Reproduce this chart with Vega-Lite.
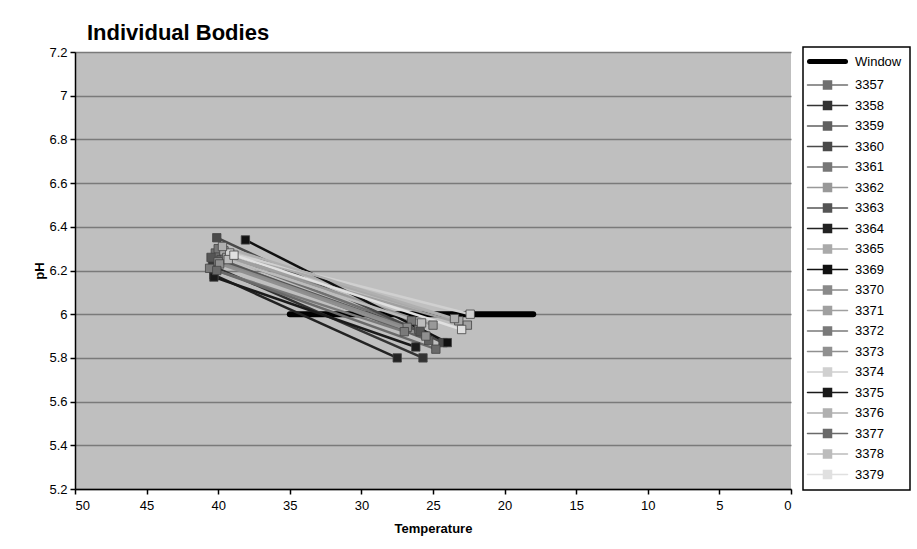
{
  "$schema": "https://vega.github.io/schema/vega-lite/v6.json",
  "width": 716,
  "height": 437,
  "autosize": {"type": "none"},
  "padding": {"left": 75, "top": 52, "right": 126, "bottom": 60},
  "background": "white",
  "title": {
    "text": "Individual Bodies",
    "anchor": "start",
    "frame": "group",
    "dx": 12,
    "dy": 7,
    "offset": 8,
    "fontSize": 22,
    "fontWeight": "bold",
    "font": "Liberation Sans",
    "color": "black"
  },
  "config": {
    "view": {"fill": "#bfbfbf", "stroke": null},
    "font": "Liberation Sans",
    "axis": {
      "labelFont": "Liberation Sans",
      "labelFontSize": 13,
      "labelColor": "black",
      "titleFont": "Liberation Sans",
      "titleFontSize": 13,
      "titleFontWeight": "bold",
      "titleColor": "black",
      "domainColor": "black",
      "domainWidth": 1.5,
      "tickColor": "black",
      "tickWidth": 1.5,
      "tickSize": 5
    }
  },
  "datasets": {
    "win": [
      {"series": "Window", "temp": 35, "ph": 6.0},
      {"series": "Window", "temp": 18, "ph": 6.0}
    ],
    "bodies": [
      {"series": "3357", "temp": 40.2, "ph": 6.28}, {"series": "3357", "temp": 26.0, "ph": 5.93},
      {"series": "3358", "temp": 40.4, "ph": 6.22}, {"series": "3358", "temp": 25.7, "ph": 5.80},
      {"series": "3359", "temp": 39.8, "ph": 6.25}, {"series": "3359", "temp": 25.3, "ph": 5.88},
      {"series": "3360", "temp": 40.1, "ph": 6.35}, {"series": "3360", "temp": 24.3, "ph": 5.87},
      {"series": "3361", "temp": 40.0, "ph": 6.30}, {"series": "3361", "temp": 26.5, "ph": 5.97},
      {"series": "3362", "temp": 39.5, "ph": 6.27}, {"series": "3362", "temp": 25.0, "ph": 5.95},
      {"series": "3363", "temp": 40.5, "ph": 6.26}, {"series": "3363", "temp": 25.9, "ph": 5.92},
      {"series": "3364", "temp": 40.3, "ph": 6.18}, {"series": "3364", "temp": 27.5, "ph": 5.80},
      {"series": "3365", "temp": 39.6, "ph": 6.29}, {"series": "3365", "temp": 23.2, "ph": 5.97},
      {"series": "3369", "temp": 38.1, "ph": 6.34}, {"series": "3369", "temp": 24.0, "ph": 5.87},
      {"series": "3370", "temp": 40.0, "ph": 6.24}, {"series": "3370", "temp": 26.8, "ph": 5.94},
      {"series": "3371", "temp": 39.4, "ph": 6.26}, {"series": "3371", "temp": 22.6, "ph": 5.95},
      {"series": "3372", "temp": 40.6, "ph": 6.21}, {"series": "3372", "temp": 27.0, "ph": 5.92},
      {"series": "3373", "temp": 39.9, "ph": 6.23}, {"series": "3373", "temp": 25.5, "ph": 5.90},
      {"series": "3374", "temp": 39.2, "ph": 6.28}, {"series": "3374", "temp": 22.4, "ph": 6.00},
      {"series": "3375", "temp": 40.3, "ph": 6.17}, {"series": "3375", "temp": 26.2, "ph": 5.85},
      {"series": "3376", "temp": 39.7, "ph": 6.31}, {"series": "3376", "temp": 23.5, "ph": 5.98},
      {"series": "3377", "temp": 40.1, "ph": 6.20}, {"series": "3377", "temp": 24.8, "ph": 5.84},
      {"series": "3378", "temp": 39.3, "ph": 6.25}, {"series": "3378", "temp": 25.8, "ph": 5.96},
      {"series": "3379", "temp": 38.9, "ph": 6.27}, {"series": "3379", "temp": 23.0, "ph": 5.93}
    ]
  },
  "encoding": {
    "x": {
      "field": "temp",
      "type": "quantitative",
      "title": "Temperature",
      "scale": {"domain": [0, 50], "reverse": true, "nice": false, "zero": false},
      "axis": {"values": [0, 5, 10, 15, 20, 25, 30, 35, 40, 45, 50], "grid": false, "titlePadding": 10, "labelPadding": 5}
    },
    "y": {
      "field": "ph",
      "type": "quantitative",
      "title": "pH",
      "scale": {"domain": [5.2, 7.2], "nice": false, "zero": false},
      "axis": {
        "values": [5.2, 5.4, 5.6, 5.8, 6.0, 6.2, 6.4, 6.6, 6.8, 7.0, 7.2],
        "format": "~g",
        "grid": true,
        "gridColor": "#7a7a7a",
        "gridWidth": 1.5,
        "titlePadding": 2,
        "labelPadding": 3
      }
    },
    "color": {
      "field": "series",
      "type": "nominal",
      "scale": {
        "domain": ["Window", "3357", "3358", "3359", "3360", "3361", "3362", "3363", "3364", "3365", "3369", "3370", "3371", "3372", "3373", "3374", "3375", "3376", "3377", "3378", "3379"],
        "range": ["#000000", "#707070", "#333333", "#606060", "#4a4a4a", "#777777", "#999999", "#555555", "#222222", "#aaaaaa", "#111111", "#8a8a8a", "#a0a0a0", "#7a7a7a", "#909090", "#d0d0d0", "#1a1a1a", "#b0b0b0", "#6a6a6a", "#bcbcbc", "#e0e0e0"]
      },
      "legend": {
        "title": null,
        "orient": "none",
        "legendX": 728,
        "legendY": -5,
        "padding": 8,
        "strokeColor": "black",
        "fillColor": "white",
        "labelFont": "Liberation Sans",
        "labelFontSize": 13,
        "labelColor": "black",
        "symbolSize": 1600,
        "symbolType": "M-1,0L1,0",
        "rowPadding": 5.5,
        "labelOffset": 31,
        "encode": {
          "legend": {"update": {"strokeWidth": {"value": 1.5}}},
          "symbols": {
            "update": {
              "shape": {"signal": "datum.value === 'Window' ? 'M-0.4,0L1.4,0' : 'M-0.5,0L0.3,0M0.7,0L1.5,0M0.3,-0.2L0.7,-0.2L0.7,0.2L0.3,0.2Z'"},
              "strokeWidth": {"signal": "datum.value === 'Window' ? 5 : 1.5"},
              "stroke": {"signal": "scale('color', datum.value)"},
              "fill": {"signal": "scale('color', datum.value)"},
              "strokeCap": {"value": "round"}
            }
          }
        }
      }
    }
  },
  "layer": [
    {
      "data": {"name": "win"},
      "mark": {"type": "line", "strokeWidth": 6, "strokeCap": "round"}
    },
    {
      "data": {"name": "bodies"},
      "mark": {"type": "line", "strokeWidth": 2.5}
    },
    {
      "data": {"name": "bodies"},
      "mark": {"type": "point", "shape": "square", "filled": true, "size": 70, "opacity": 1, "stroke": "#444444", "strokeWidth": 0.8}
    }
  ]
}
